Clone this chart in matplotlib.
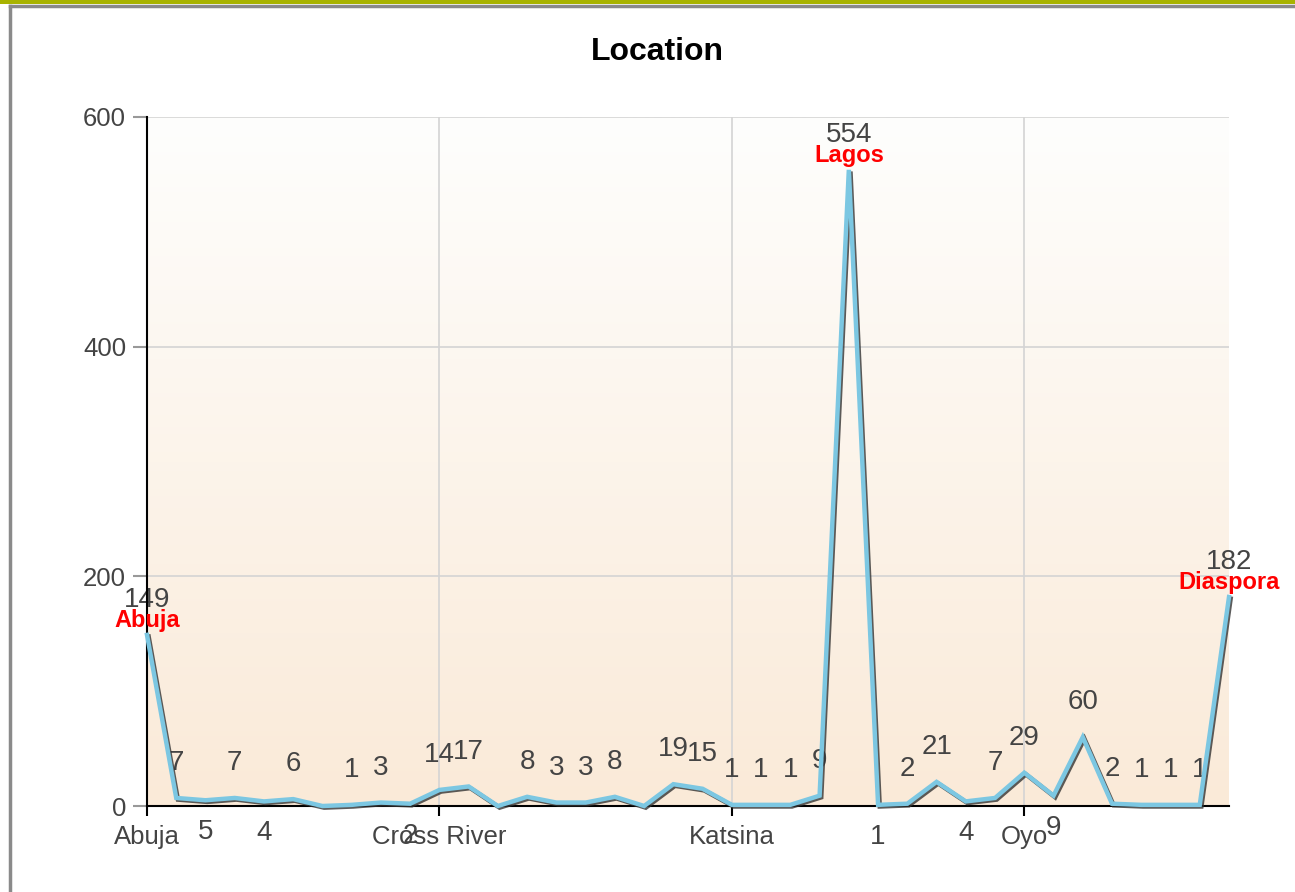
import numpy as np
import matplotlib
matplotlib.use("Agg")
import matplotlib.pyplot as plt
import matplotlib.patheffects as pe
from matplotlib.colors import LinearSegmentedColormap

plt.rcParams['font.family'] = ['Liberation Sans', 'DejaVu Sans']

# data (38 locations, only every 10th named on the axis)
counts = [149, 7, 5, 7, 4, 6, 0, 1, 3, 2,
          14, 17, 0, 8, 3, 3, 8, 0, 19, 15,
          1, 1, 1, 9, 554, 1, 2, 21, 4, 7,
          29, 9, 60, 2, 1, 1, 1, 182]
tick_idx = [0, 10, 20, 30]
tick_names = ['Abuja', 'Cross River', 'Katsina', 'Oyo']
# value labels drawn under the axis instead of above the point
below_idx = [2, 4, 9, 25, 28, 31]
hidden_idx = [6, 12, 17]
# red names over the big points
named = {0: 'Abuja', 24: 'Lagos', 37: 'Diaspora'}

W, H = 1295, 892
fig = plt.figure(figsize=(W / 100, H / 100), dpi=100)
fig.patch.set_facecolor('white')

# page frame bits
fig.add_artist(plt.Rectangle((0, 1 - 4 / H), 1, 4 / H, transform=fig.transFigure,
                             color='#a8b300', lw=0))
fig.add_artist(plt.Line2D([10 / W, 1], [1 - 6 / H, 1 - 6 / H], transform=fig.transFigure,
                          color='#8a8a8a', lw=2.5))
fig.add_artist(plt.Line2D([10 / W, 10 / W], [0, 1 - 6 / H], transform=fig.transFigure,
                          color='#8a8a8a', lw=2.5))

ax = fig.add_axes([147 / W, 86 / H, (1229 - 147) / W, (806 - 117) / H])
ax.set_xlim(0, len(counts) - 1)
ax.set_ylim(0, 600)

# background gradient
cmap = LinearSegmentedColormap.from_list('bg', ['#faead8', '#fefefd'])
grad = np.linspace(0, 1, 256).reshape(-1, 1)
ax.imshow(grad, extent=[0, len(counts) - 1, 0, 600], origin='lower', aspect='auto',
          cmap=cmap, zorder=0)

ax.set_yticks([0, 200, 400, 600])
ax.set_xticks(tick_idx)
ax.set_xticklabels(tick_names)
ax.grid(True, color='#d4d4d4', lw=1.2, zorder=1)
ax.tick_params(axis='y', length=10, width=1.5, color='#999999', pad=5,
               labelsize=18.5, labelcolor='#444444')
ax.tick_params(axis='x', length=7, width=1.5, color='black', pad=7,
               labelsize=18.5, labelcolor='#444444')
for s in ['top', 'right']:
    ax.spines[s].set_visible(False)
for s in ['left', 'bottom']:
    ax.spines[s].set_linewidth(1.5)
    ax.spines[s].set_zorder(3)

x = np.arange(len(counts))
ax.plot(x, counts, color='#7cc7e2', lw=3.2, zorder=4, clip_on=False,
        solid_joinstyle='miter',
        path_effects=[pe.SimpleLineShadow(offset=(1.2, -1.2), shadow_color='#333333', alpha=0.8),
                      pe.Normal()])

for i, v in enumerate(counts):
    if i in hidden_idx:
        continue
    if i in below_idx:
        ax.annotate(str(v), (i, v), xytext=(0, -23), textcoords='offset points',
                    ha='center', va='center', fontsize=20, color='#444444',
                    annotation_clip=False)
    else:
        ax.annotate(str(v), (i, v), xytext=(0, 25), textcoords='offset points',
                    ha='center', va='center', fontsize=20, color='#444444',
                    annotation_clip=False)

for i, name in named.items():
    ax.annotate(name, (i, counts[i]), xytext=(0, 10.5), textcoords='offset points',
                ha='center', va='center', fontsize=17, fontweight='bold', color='red',
                annotation_clip=False, zorder=6)

fig.text(657 / W, 1 - 52 / H, 'Location', ha='center', va='center',
         fontsize=23, fontweight='bold', color='black')

fig.savefig('out.png', dpi=100)
